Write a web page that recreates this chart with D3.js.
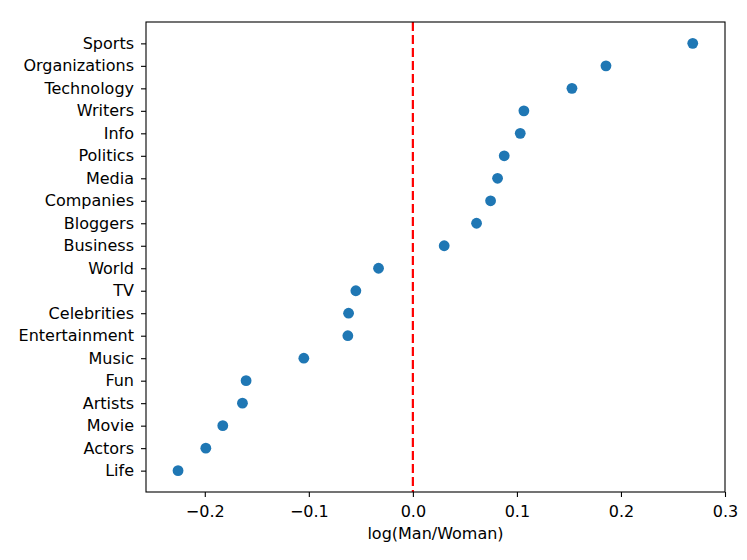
<!DOCTYPE html>
<html>
<head>
<meta charset="utf-8">
<script src="https://cdn.jsdelivr.net/npm/d3@7"></script>
<style>
  body { margin: 0; background: #fff; }
  svg { display: block; font-family: "DejaVu Sans", sans-serif; }
</style>
</head>
<body>
<svg id="chart" width="747" height="560"></svg>
<script>
const categories = ["Sports","Organizations","Technology","Writers","Info","Politics","Media","Companies","Bloggers","Business","World","TV","Celebrities","Entertainment","Music","Fun","Artists","Movie","Actors","Life"];
const values = [0.269, 0.1856, 0.1529, 0.1067, 0.1032, 0.0878, 0.0814, 0.0747, 0.0612, 0.0301, -0.0330, -0.0548, -0.0618, -0.0625, -0.1048, -0.1603, -0.1638, -0.1827, -0.1990, -0.2257];
const xTicks = [-0.2, -0.1, 0.0, 0.1, 0.2, 0.3];
const xLabel = "log(Man/Woman)";

const svg = d3.select("#chart");
const m = {left: 146, right: 725, top: 22, bottom: 492};
const FS = 16;

const x = d3.scaleLinear().domain([-0.2565, 0.3]).range([m.left, m.right]);
const y = d3.scaleLinear().domain([-0.95, categories.length - 1 + 0.95]).range([m.top, m.bottom]);

// zero line
svg.append("line")
  .attr("x1", x(0)).attr("x2", x(0))
  .attr("y1", m.top).attr("y2", m.bottom)
  .attr("stroke", "#ff0000").attr("stroke-width", 2.2)
  .attr("stroke-dasharray", "9,4");

// points
svg.append("g").selectAll("circle").data(values).join("circle")
  .attr("cx", d => x(d))
  .attr("cy", (d, i) => y(i))
  .attr("r", 5.4)
  .attr("fill", "#1f77b4");

// axes
const fmt = d => d === 0 ? "0.0" : d3.format(".1f")(d).replace("-", "\u2212");
const xAxis = d3.axisBottom(x).tickValues(xTicks).tickFormat(fmt).tickSize(5);
const gx = svg.append("g").attr("transform", `translate(0,${m.bottom})`).call(xAxis);
gx.select(".domain").remove();
gx.selectAll("line").attr("stroke", "#000").attr("stroke-width", 1.1);
gx.selectAll("text").attr("font-size", FS).attr("fill", "#000").attr("font-family", "DejaVu Sans")
  .attr("y", 24.7).attr("dy", null);

const yAxis = d3.axisLeft(y).tickValues(d3.range(categories.length)).tickFormat(i => categories[i]).tickSize(5).tickPadding(7);
const gy = svg.append("g").attr("transform", `translate(${m.left},0)`).call(yAxis);
gy.select(".domain").remove();
gy.selectAll("line").attr("stroke", "#000").attr("stroke-width", 1.1);
gy.selectAll("text").attr("font-size", FS).attr("fill", "#000").attr("font-family", "DejaVu Sans");

// frame
svg.append("rect")
  .attr("x", m.left).attr("y", m.top)
  .attr("width", m.right - m.left).attr("height", m.bottom - m.top)
  .attr("fill", "none").attr("stroke", "#000").attr("stroke-width", 1.1);

svg.append("text")
  .attr("x", (m.left + m.right) / 2).attr("y", 538.5)
  .attr("text-anchor", "middle").attr("font-size", FS)
  .attr("font-family", "DejaVu Sans")
  .text(xLabel);
</script>
</body>
</html>
